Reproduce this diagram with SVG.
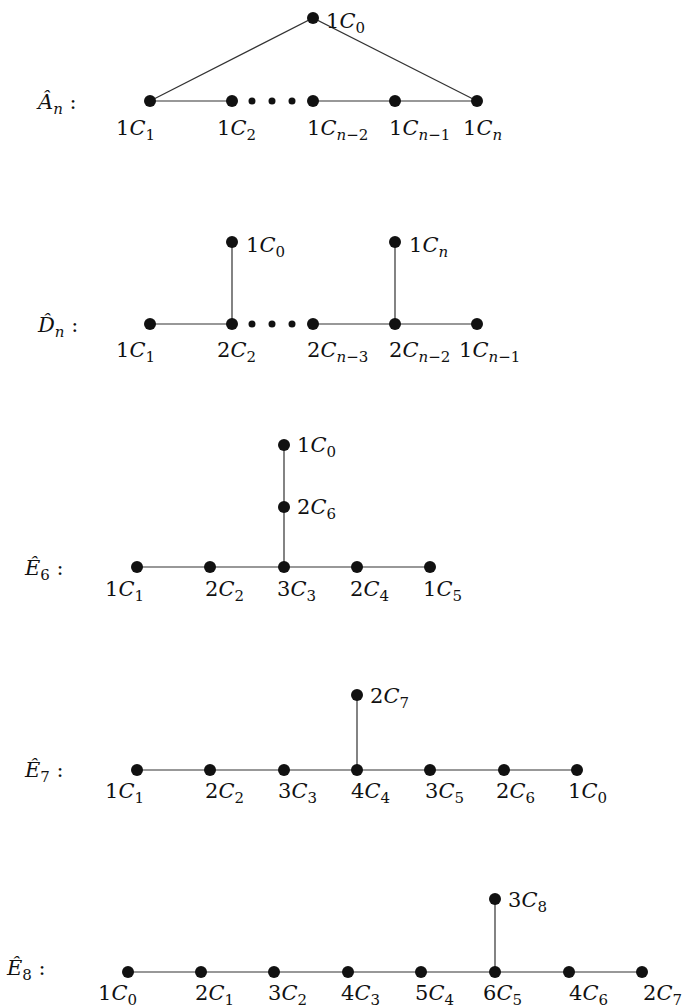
<svg xmlns="http://www.w3.org/2000/svg" width="686" height="1008" viewBox="0 0 686 1008">
<style>
text { font-family: "DejaVu Serif", "Liberation Serif", serif; font-size: 21px; fill: #111; }
.i { font-style: italic; }
.s { font-size: 15px; }
.e { stroke: #333; stroke-width: 1.2; fill: none; }
.n { fill: #111; }
</style>
<rect width="686" height="1008" fill="#fff"/>

<!-- ===== A_n hat ===== -->
<g id="conn-An">
<path class="e" d="M150 101 L313 18 L477 101 M150 101 H232 M313 101 H477"/>
</g>
<text id="title-An" x="38" y="109"><tspan class="i">Â</tspan><tspan class="s i" dy="5">n</tspan><tspan dy="-5"> :</tspan></text>
<g id="An-c0"><circle class="n" cx="313" cy="18" r="6"/><text x="326" y="28">1<tspan class="i">C</tspan><tspan class="s" dy="5">0</tspan></text></g>
<g id="An-c1"><circle class="n" cx="150" cy="101" r="6"/><text x="116" y="135">1<tspan class="i">C</tspan><tspan class="s" dy="5">1</tspan></text></g>
<g id="An-c2"><circle class="n" cx="232" cy="101" r="6"/><text x="217" y="135">1<tspan class="i">C</tspan><tspan class="s" dy="5">2</tspan></text></g>
<g id="An-dots"><circle class="n" cx="252" cy="101" r="3.5"/><circle class="n" cx="272" cy="101" r="3.5"/><circle class="n" cx="292" cy="101" r="3.5"/></g>
<g id="An-cn2"><circle class="n" cx="313" cy="101" r="6"/><text x="307" y="135">1<tspan class="i">C</tspan><tspan class="s" dy="5"><tspan class="i">n</tspan>−2</tspan></text></g>
<g id="An-cn1"><circle class="n" cx="395" cy="101" r="6"/><text x="389" y="135">1<tspan class="i">C</tspan><tspan class="s" dy="5"><tspan class="i">n</tspan>−1</tspan></text></g>
<g id="An-cn"><circle class="n" cx="477" cy="101" r="6"/><text x="463" y="135">1<tspan class="i">C</tspan><tspan class="s i" dy="5">n</tspan></text></g>

<!-- ===== D_n hat ===== -->
<g id="conn-Dn">
<path class="e" d="M150 324 H232 M313 324 H477 M232 242 V324 M395 242 V324"/>
</g>
<text id="title-Dn" x="38" y="332"><tspan class="i">D̂</tspan><tspan class="s i" dy="5">n</tspan><tspan dy="-5"> :</tspan></text>
<g id="Dn-c0"><circle class="n" cx="232" cy="242" r="6"/><text x="246" y="252">1<tspan class="i">C</tspan><tspan class="s" dy="5">0</tspan></text></g>
<g id="Dn-cn"><circle class="n" cx="395" cy="242" r="6"/><text x="409" y="252">1<tspan class="i">C</tspan><tspan class="s i" dy="5">n</tspan></text></g>
<g id="Dn-c1"><circle class="n" cx="150" cy="324" r="6"/><text x="116" y="357">1<tspan class="i">C</tspan><tspan class="s" dy="5">1</tspan></text></g>
<g id="Dn-c2"><circle class="n" cx="232" cy="324" r="6"/><text x="217" y="357">2<tspan class="i">C</tspan><tspan class="s" dy="5">2</tspan></text></g>
<g id="Dn-dots"><circle class="n" cx="252" cy="324" r="3.5"/><circle class="n" cx="272" cy="324" r="3.5"/><circle class="n" cx="292" cy="324" r="3.5"/></g>
<g id="Dn-cn3"><circle class="n" cx="313" cy="324" r="6"/><text x="307" y="357">2<tspan class="i">C</tspan><tspan class="s" dy="5"><tspan class="i">n</tspan>−3</tspan></text></g>
<g id="Dn-cn2"><circle class="n" cx="395" cy="324" r="6"/><text x="389" y="357">2<tspan class="i">C</tspan><tspan class="s" dy="5"><tspan class="i">n</tspan>−2</tspan></text></g>
<g id="Dn-cn1"><circle class="n" cx="477" cy="324" r="6"/><text x="459" y="357">1<tspan class="i">C</tspan><tspan class="s" dy="5"><tspan class="i">n</tspan>−1</tspan></text></g>

<!-- ===== E6 hat ===== -->
<g id="conn-E6">
<path class="e" d="M137 567 H430 M284 445 V567"/>
</g>
<text id="title-E6" x="25" y="575"><tspan class="i">Ê</tspan><tspan class="s" dy="5">6</tspan><tspan dy="-5"> :</tspan></text>
<g id="E6-c0"><circle class="n" cx="284" cy="445" r="6"/><text x="297" y="452">1<tspan class="i">C</tspan><tspan class="s" dy="5">0</tspan></text></g>
<g id="E6-c6"><circle class="n" cx="284" cy="507" r="6"/><text x="297" y="514">2<tspan class="i">C</tspan><tspan class="s" dy="5">6</tspan></text></g>
<g id="E6-c1"><circle class="n" cx="137" cy="567" r="6"/><text x="105" y="596">1<tspan class="i">C</tspan><tspan class="s" dy="5">1</tspan></text></g>
<g id="E6-c2"><circle class="n" cx="210" cy="567" r="6"/><text x="205" y="596">2<tspan class="i">C</tspan><tspan class="s" dy="5">2</tspan></text></g>
<g id="E6-c3"><circle class="n" cx="284" cy="567" r="6"/><text x="277" y="596">3<tspan class="i">C</tspan><tspan class="s" dy="5">3</tspan></text></g>
<g id="E6-c4"><circle class="n" cx="357" cy="567" r="6"/><text x="350" y="596">2<tspan class="i">C</tspan><tspan class="s" dy="5">4</tspan></text></g>
<g id="E6-c5"><circle class="n" cx="430" cy="567" r="6"/><text x="423" y="596">1<tspan class="i">C</tspan><tspan class="s" dy="5">5</tspan></text></g>

<!-- ===== E7 hat ===== -->
<g id="conn-E7">
<path class="e" d="M137 770 H577 M357 695 V770"/>
</g>
<text id="title-E7" x="25" y="777"><tspan class="i">Ê</tspan><tspan class="s" dy="5">7</tspan><tspan dy="-5"> :</tspan></text>
<g id="E7-c7"><circle class="n" cx="357" cy="695" r="6"/><text x="370" y="703">2<tspan class="i">C</tspan><tspan class="s" dy="5">7</tspan></text></g>
<g id="E7-c1"><circle class="n" cx="137" cy="770" r="6"/><text x="105" y="798">1<tspan class="i">C</tspan><tspan class="s" dy="5">1</tspan></text></g>
<g id="E7-c2"><circle class="n" cx="210" cy="770" r="6"/><text x="205" y="798">2<tspan class="i">C</tspan><tspan class="s" dy="5">2</tspan></text></g>
<g id="E7-c3"><circle class="n" cx="284" cy="770" r="6"/><text x="278" y="798">3<tspan class="i">C</tspan><tspan class="s" dy="5">3</tspan></text></g>
<g id="E7-c4"><circle class="n" cx="357" cy="770" r="6"/><text x="351" y="798">4<tspan class="i">C</tspan><tspan class="s" dy="5">4</tspan></text></g>
<g id="E7-c5"><circle class="n" cx="430" cy="770" r="6"/><text x="425" y="798">3<tspan class="i">C</tspan><tspan class="s" dy="5">5</tspan></text></g>
<g id="E7-c6"><circle class="n" cx="504" cy="770" r="6"/><text x="496" y="798">2<tspan class="i">C</tspan><tspan class="s" dy="5">6</tspan></text></g>
<g id="E7-c0"><circle class="n" cx="577" cy="770" r="6"/><text x="568" y="798">1<tspan class="i">C</tspan><tspan class="s" dy="5">0</tspan></text></g>

<!-- ===== E8 hat ===== -->
<g id="conn-E8">
<path class="e" d="M128 972 H642 M495 899 V972"/>
</g>
<text id="title-E8" x="7" y="975"><tspan class="i">Ê</tspan><tspan class="s" dy="5">8</tspan><tspan dy="-5"> :</tspan></text>
<g id="E8-c8"><circle class="n" cx="495" cy="899" r="6"/><text x="508" y="907">3<tspan class="i">C</tspan><tspan class="s" dy="5">8</tspan></text></g>
<g id="E8-c0"><circle class="n" cx="128" cy="972" r="6"/><text x="98" y="1000">1<tspan class="i">C</tspan><tspan class="s" dy="5">0</tspan></text></g>
<g id="E8-c1"><circle class="n" cx="201" cy="972" r="6"/><text x="195" y="1000">2<tspan class="i">C</tspan><tspan class="s" dy="5">1</tspan></text></g>
<g id="E8-c2"><circle class="n" cx="274" cy="972" r="6"/><text x="268" y="1000">3<tspan class="i">C</tspan><tspan class="s" dy="5">2</tspan></text></g>
<g id="E8-c3"><circle class="n" cx="348" cy="972" r="6"/><text x="341" y="1000">4<tspan class="i">C</tspan><tspan class="s" dy="5">3</tspan></text></g>
<g id="E8-c4"><circle class="n" cx="421" cy="972" r="6"/><text x="415" y="1000">5<tspan class="i">C</tspan><tspan class="s" dy="5">4</tspan></text></g>
<g id="E8-c5"><circle class="n" cx="495" cy="972" r="6"/><text x="483" y="1000">6<tspan class="i">C</tspan><tspan class="s" dy="5">5</tspan></text></g>
<g id="E8-c6"><circle class="n" cx="569" cy="972" r="6"/><text x="569" y="1000">4<tspan class="i">C</tspan><tspan class="s" dy="5">6</tspan></text></g>
<g id="E8-c7"><circle class="n" cx="642" cy="972" r="6"/><text x="643" y="1000">2<tspan class="i">C</tspan><tspan class="s" dy="5">7</tspan></text></g>
</svg>
